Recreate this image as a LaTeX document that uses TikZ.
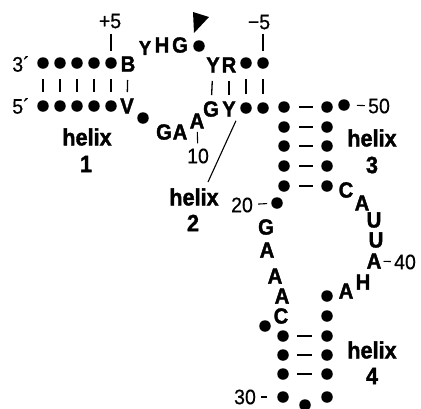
\documentclass[tikz,border=0pt]{standalone}
\usepackage{fontspec}
\setmainfont{Liberation Sans}
\newfontfamily\ntfont[FakeStretch=0.92,BoldFeatures={FakeBold=1.6}]{Liberation Sans}
\newfontfamily\numfont[FakeStretch=0.93,FakeBold=0.5]{Liberation Sans}
\begin{document}
\begin{tikzpicture}[x=1pt,y=-1pt,
  dot/.style={circle,fill,inner sep=0pt,minimum size=11.5pt},
  nt/.style={font=\ntfont\fontsize{22}{22}\selectfont\bfseries,inner sep=0pt},
  ntsmall/.style={font=\ntfont\fontsize{20}{20}\selectfont\bfseries,inner sep=0pt},
  num/.style={font=\numfont\fontsize{21}{21}\selectfont,inner sep=0pt},
  lab/.style={font=\ntfont\fontsize{23.5}{23.5}\selectfont\bfseries,inner sep=0pt},
  bp/.style={line width=1.3pt,shorten <=16pt,shorten >=14pt},
  hdash/.style={line width=1.7pt,shorten <=15pt,shorten >=14pt},
  tk/.style={line width=1.1pt}]
\useasboundingbox (0,0) rectangle (421,408);
\clip (0,0) rectangle (421,408);

% ---- helix 1 ----
\node[num] (p3) at (21,64) {3´};
\node[num] (p5) at (21,106) {5´};
\foreach \i/\x in {1/43,2/60,3/77,4/94,5/111} {
  \node[dot] (a\i) at (\x,63) {};
  \node[dot] (b\i) at (\x,106) {};
}
\node[nt] (B) at (128,64) {B};
\node[nt] (V) at (127,106) {V};
\foreach \i in {1,...,5} \draw[bp] (a\i.center) -- (b\i.center);
\draw[bp] (B.center) -- (V.center);
\node[num] (plus5) at (110,21) {+5};
\draw[tk,shorten <=12pt,shorten >=5pt] (a5.center) -- (a5.center |- plus5.south);

% ---- loop between helix 1 and helix 2 ----
\node[dot] (d7) at (143,118) {};
\node[nt] (g8) at (164,132) {G};
\node[nt] (a9) at (180,132) {A};
\node[nt] (a10) at (197,121) {A};
\node[num] (n10) at (198,156) {10};
\draw[tk,shorten <=3pt,shorten >=5pt] (a10) -- (n10);

% ---- upper strand of the cleavage loop ----
\node[ntsmall] (yy) at (145,48) {Y};
\node[nt] (hh) at (162,45) {H};
\node[nt] (gg) at (180,45) {G};
\node[dot] (dc) at (199,46) {};
\fill (193,12) -- (209,17) -- (194,33) -- cycle;

% ---- helix 2 ----
\node[nt] (yt) at (213,65) {Y};
\node[nt] (rt) at (229,65) {R};
\node[dot] (c1) at (246,63) {};
\node[dot] (c2) at (263,63) {};
\node[nt] (gb) at (211,109) {G};
\node[nt] (yb) at (229,109) {Y};
\node[dot] (e1) at (246,108) {};
\node[dot] (e2) at (263,108) {};
\draw[bp] (yt.center) -- (gb.center);
\draw[bp] (rt.center) -- (yb.center);
\draw[bp] (c1.center) -- (e1.center);
\draw[bp] (c2.center) -- (e2.center);
\node[num] (m5) at (259,22) {−5};
\draw[tk,shorten <=12pt,shorten >=4pt] (c2.center) -- (c2.center |- m5.south);

% ---- labels ----
\node[lab] (h1) at (87,137) {helix};
\node[lab] (h1n) at (86,164) {1};
\node[lab] (h2) at (194,197) {helix};
\node[lab] (h2n) at (193,223) {2};
\coordinate (h2tip) at (208,182);
\draw[tk] (yb.south east) ++(0,4) -- (h2tip);
\node[lab] (h3) at (372,138) {helix};
\node[lab] (h3n) at (372,165) {3};
\node[lab] (h4) at (372,350) {helix};
\node[lab] (h4n) at (372,376) {4};

% ---- helix 3 ----
\foreach \i/\y in {1/107,2/127,3/146,4/166,5/186} {
  \node[dot] (l\i) at (284,\y) {};
  \node[dot] (r\i) at (327,\y) {};
  \draw[hdash] (l\i.center) -- (r\i.center);
}
\node[dot] (d50) at (344,105) {};
\node[num] (n50) at (379,106) {50};
\draw[tk,shorten <=7pt,shorten >=3pt] (d50) -- (n50);

% ---- loop of helix 3 / helix 4 junction ----
\node[nt] (c35) at (346,190) {C};
\node[nt] (a36) at (362,203) {A};
\node[nt] (u37) at (374,220) {U};
\node[nt] (u38) at (376,240) {U};
\node[nt] (a39) at (374,261) {A};
\node[num] (n40) at (405,262) {40};
\draw[tk,shorten <=2pt,shorten >=3pt] (a39) -- (n40);
\node[nt] (h41) at (363,282) {H};
\node[nt] (a42) at (346,291) {A};

% ---- strand from helix 3 down to helix 4 ----
\node[dot] (d20) at (277,203) {};
\node[num] (n20) at (242,205) {20};
\draw[tk,shorten <=5pt,shorten >=4pt] (n20) -- (d20);
\node[nt] (g21) at (266,227) {G};
\node[nt] (a22) at (267,250) {A};
\node[nt] (a23) at (275,276) {A};
\node[nt] (a24) at (282,296) {A};
\node[nt] (c25) at (281,316) {C};
\node[dot] (d26) at (265,326) {};

% ---- helix 4 ----
\foreach \i/\y in {1/296,2/316,3/336,4/355,5/374,6/397}
  \node[dot] (q\i) at (327,\y) {};
\foreach \i/\y in {1/336,2/355,3/374,4/397}
  \node[dot] (s\i) at (283,\y) {};
\draw[hdash,shorten <=14pt,shorten >=15pt] (s1.center) -- (q3.center);
\draw[hdash,shorten <=14pt,shorten >=15pt] (s2.center) -- (q4.center);
\draw[hdash,shorten <=14pt,shorten >=15pt] (s3.center) -- (q5.center);
\node[dot] (d31) at (305,405) {};
\node[num] (n30) at (245,397) {30};
\draw[tk,shorten <=5pt,shorten >=10pt] (n30) -- (s4);
\end{tikzpicture}
\end{document}
